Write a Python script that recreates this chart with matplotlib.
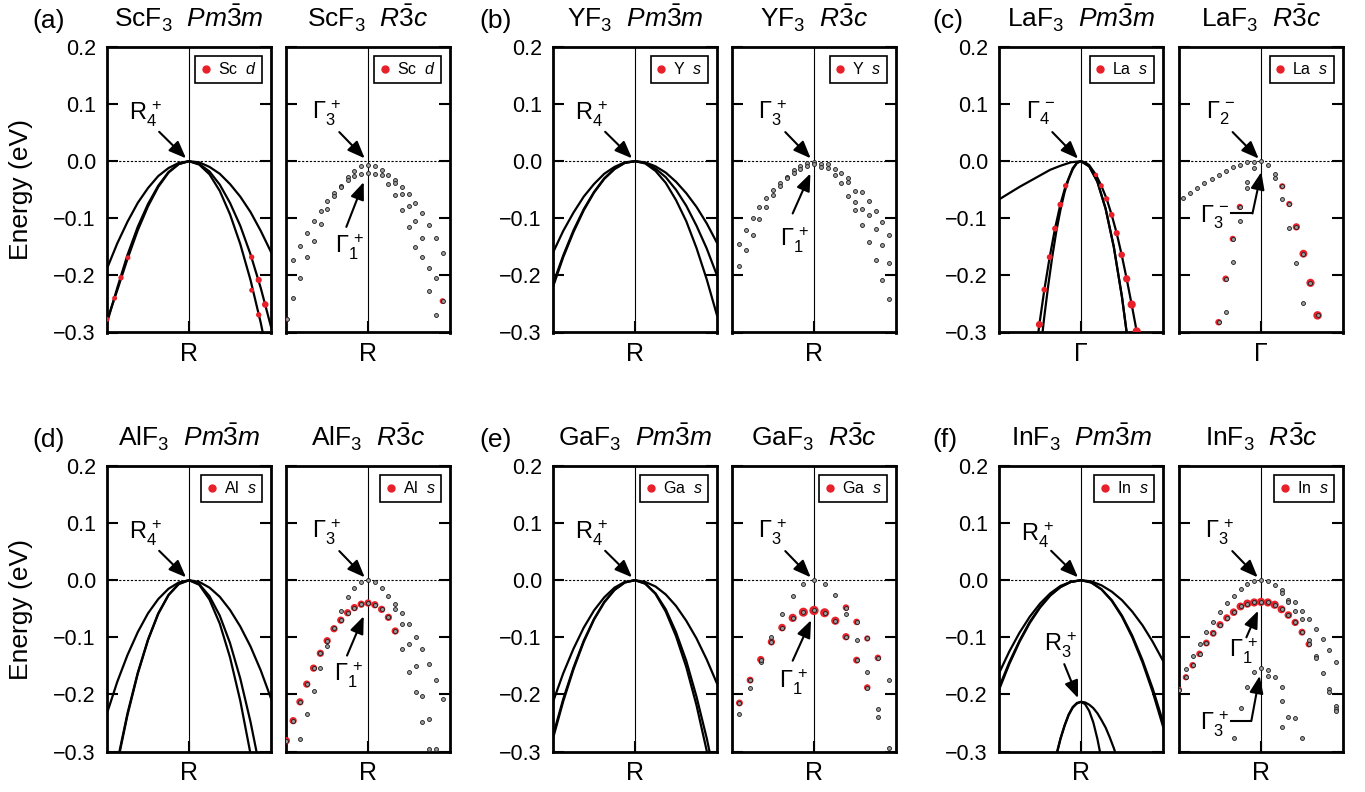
import matplotlib
matplotlib.use("Agg")
import matplotlib.pyplot as plt
from matplotlib.lines import Line2D

plt.rcParams['font.family'] = ['Liberation Sans', 'DejaVu Sans']
plt.rcParams['mathtext.fontset'] = 'custom'
plt.rcParams['mathtext.rm'] = 'Liberation Sans'
plt.rcParams['mathtext.it'] = 'Liberation Sans:italic'
plt.rcParams['mathtext.bf'] = 'Liberation Sans:bold'

RED = '#e8202a'

Y_TICKS = [-0.3, -0.2, -0.1, 0.0, 0.1, 0.2]
Y_TICK_LABELS = ['\u22120.3', '\u22120.2', '\u22120.1', '0.0', '0.1', '0.2']

# ---- cubic (Pm-3m) panels: bands read on a common k grid, R / Gamma at k = 0
K_LINE = [-1, -0.875, -0.75, -0.625, -0.5, -0.375, -0.25, -0.125, 0,
          0.125, 0.25, 0.375, 0.5, 0.625, 0.75, 0.875, 1]

SC_PM_BANDS = [
    [-0.188, -0.144, -0.106, -0.073, -0.047, -0.026, -0.012, -0.003, 0,
     -0.002, -0.010, -0.022, -0.040, -0.062, -0.089, -0.122, -0.159],
    [-0.279, -0.226, -0.171, -0.121, -0.079, -0.045, -0.020, -0.005, 0,
     -0.005, -0.018, -0.041, -0.073, -0.113, -0.163, -0.222, -0.290],
    [-0.283, -0.222, -0.164, -0.115, -0.075, -0.043, -0.019, -0.005, 0,
     -0.006, -0.023, -0.052, -0.093, -0.145, -0.208, -0.283, -0.370],
]
SC_PM_RED_K = [-1, -0.907, -0.829, -0.744, 0.764, 0.85, 0.93, 0.764, 0.85]
SC_PM_RED_E = [-0.277, -0.240, -0.204, -0.169, -0.168, -0.208, -0.251, -0.226, -0.269]
SC_PM_RED_W = [0.25, 0.25, 0.3, 0.25, 0.3, 0.4, 0.45, 0.25, 0.3]

Y_PM_BANDS = [
    [-0.160, -0.122, -0.090, -0.062, -0.040, -0.022, -0.010, -0.002, 0,
     -0.002, -0.009, -0.020, -0.036, -0.056, -0.080, -0.109, -0.143],
    [-0.220, -0.168, -0.124, -0.086, -0.055, -0.031, -0.014, -0.003, 0,
     -0.003, -0.013, -0.028, -0.050, -0.078, -0.113, -0.153, -0.200],
    [-0.215, -0.165, -0.121, -0.084, -0.054, -0.030, -0.013, -0.003, 0,
     -0.004, -0.017, -0.038, -0.068, -0.105, -0.152, -0.207, -0.270],
]

AL_PM_BANDS = [
    [-0.233, -0.178, -0.131, -0.091, -0.058, -0.033, -0.015, -0.004, 0,
     -0.003, -0.013, -0.029, -0.052, -0.081, -0.116, -0.158, -0.207],
    [-0.420, -0.322, -0.236, -0.164, -0.105, -0.059, -0.026, -0.007, 0,
     -0.007, -0.028, -0.062, -0.110, -0.172, -0.248, -0.337, -0.440],
    [-0.415, -0.318, -0.233, -0.162, -0.104, -0.058, -0.026, -0.006, 0,
     -0.008, -0.034, -0.076, -0.135, -0.211, -0.304, -0.413, -0.540],
]

GA_PM_BANDS = [
    [-0.213, -0.163, -0.120, -0.083, -0.053, -0.030, -0.013, -0.003, 0,
     -0.003, -0.011, -0.025, -0.045, -0.071, -0.102, -0.139, -0.181],
    [-0.277, -0.212, -0.156, -0.108, -0.069, -0.039, -0.017, -0.004, 0,
     -0.006, -0.023, -0.051, -0.091, -0.141, -0.204, -0.277, -0.362],
    [-0.272, -0.208, -0.153, -0.106, -0.068, -0.038, -0.017, -0.004, 0,
     -0.006, -0.024, -0.055, -0.098, -0.152, -0.219, -0.299, -0.390],
]

IN_PM_BANDS = [
    [-0.163, -0.125, -0.092, -0.064, -0.041, -0.023, -0.010, -0.003, 0,
     -0.002, -0.009, -0.020, -0.035, -0.055, -0.079, -0.108, -0.141],
    [-0.192, -0.147, -0.108, -0.075, -0.048, -0.027, -0.012, -0.003, 0,
     -0.004, -0.016, -0.036, -0.064, -0.100, -0.144, -0.196, -0.256],
    [-0.188, -0.144, -0.106, -0.073, -0.047, -0.026, -0.012, -0.003, 0,
     -0.004, -0.016, -0.035, -0.062, -0.097, -0.140, -0.190, -0.248],
]
# lower R3+ group of InF3
IN_LOW_K_A = [-0.3, -0.25, -0.2, -0.15, -0.1, -0.05, 0, 0.05, 0.1, 0.15, 0.2, 0.25]
IN_LOW_E_A = [-0.307, -0.278, -0.255, -0.236, -0.223, -0.216, -0.213,
              -0.217, -0.229, -0.249, -0.278, -0.314]
IN_LOW_K_B = [-0.3, -0.25, -0.2, -0.15, -0.1, -0.05, 0, 0.05, 0.1, 0.15,
              0.2, 0.25, 0.3, 0.35, 0.4, 0.45]
IN_LOW_E_B = [-0.305, -0.277, -0.254, -0.235, -0.222, -0.215, -0.213,
              -0.214, -0.218, -0.224, -0.233, -0.245, -0.258, -0.275, -0.294, -0.315]

# LaF3 at Gamma: bands are not symmetric, each one read on its own k points
LA_PM_K_A = [-1, -0.875, -0.75, -0.625, -0.5, -0.375, -0.25, -0.125, 0,
             0.1, 0.2, 0.3, 0.4, 0.5, 0.58]
LA_PM_E_A = [-0.067, -0.056, -0.045, -0.035, -0.025, -0.015, -0.008, -0.002, 0,
             -0.009, -0.036, -0.083, -0.150, -0.238, -0.325]
LA_PM_K_B = [-0.53, -0.508, -0.447, -0.382, -0.317, -0.252, -0.187, -0.1, -0.05, 0,
             0.05, 0.1, 0.183, 0.248, 0.313, 0.374, 0.435, 0.496, 0.557, 0.618, 0.679, 0.7]
LA_PM_E_B = [-0.312, -0.286, -0.225, -0.168, -0.118, -0.076, -0.043, -0.012, -0.003, 0,
             -0.002, -0.007, -0.024, -0.043, -0.066, -0.094, -0.126, -0.164, -0.206,
             -0.251, -0.298, -0.315]
LA_PM_K_C = [-0.5, -0.45, -0.4, -0.35, -0.3, -0.25, -0.2, -0.15, -0.1, -0.05, 0,
             0.1, 0.2, 0.3, 0.4, 0.5, 0.58]
LA_PM_E_C = [-0.340, -0.275, -0.218, -0.167, -0.122, -0.085, -0.054, -0.031, -0.014, -0.003, 0,
             -0.009, -0.036, -0.083, -0.150, -0.238, -0.325]
LA_PM_RED_K = [-0.187, -0.252, -0.317, -0.382, -0.447, -0.508,
               0.183, 0.248, 0.313, 0.374, 0.435, 0.496, 0.557, 0.618, 0.679]
LA_PM_RED_E = [-0.043, -0.076, -0.118, -0.168, -0.225, -0.286,
               -0.024, -0.043, -0.066, -0.094, -0.126, -0.164, -0.206, -0.251, -0.298]
LA_PM_RED_W = [0.3, 0.35, 0.35, 0.35, 0.35, 0.5,
               0.2, 0.25, 0.3, 0.35, 0.4, 0.45, 0.55, 0.7, 0.7]

# ---- rhombohedral (R-3c) panels: k in units of the calculation step, Gamma at 0
SC_R3C_K = list(range(-12, 12))
SC_R3C_E = [
    [-0.277],
    [-0.173, -0.240], [-0.149, -0.204], [-0.125, -0.168], [-0.104, -0.139],
    [-0.087, -0.110], [-0.069, -0.084], [-0.055, -0.061], [-0.043, -0.046],
    [-0.027, -0.033], [-0.017, -0.026], [-0.009, -0.022], [-0.006, -0.021],
    [-0.009, -0.022], [-0.015, -0.025], [-0.024, -0.040], [-0.033, -0.038, -0.060],
    [-0.045, -0.057, -0.086], [-0.057, -0.078, -0.116], [-0.073, -0.104, -0.151],
    [-0.090, -0.134, -0.168], [-0.111, -0.187, -0.227], [-0.134, -0.205, -0.269],
    [-0.160, -0.245],
]
SC_R3C_RED_K = [-12, 11]
SC_R3C_RED_E = [-0.277, -0.245]
SC_R3C_RED_W = [0.25, 0.35]

Y_R3C_K = list(range(-11, 12))
Y_R3C_E = [
    [-0.145, -0.184], [-0.120, -0.156], [-0.099, -0.129], [-0.081, -0.102],
    [-0.064, -0.080], [-0.050, -0.060], [-0.038, -0.043], [-0.027, -0.029],
    [-0.016, -0.020], [-0.009, -0.014], [-0.003, -0.009], [-0.001, -0.005],
    [-0.005, -0.010], [-0.005, -0.012], [-0.014, -0.024], [-0.021, -0.039],
    [-0.030, -0.037, -0.061], [-0.052, -0.071, -0.085], [-0.054, -0.084, -0.111],
    [-0.070, -0.094, -0.141], [-0.088, -0.119, -0.173], [-0.106, -0.147, -0.208],
    [-0.129, -0.178, -0.242],
]

LA_R3C_K = list(range(-11, 9))
LA_R3C_E = [
    [-0.064], [-0.056], [-0.047], [-0.039], [-0.031],
    [-0.024, -0.282], [-0.017, -0.206, -0.264], [-0.010, -0.136, -0.177],
    [-0.006, -0.080, -0.104], [-0.002, -0.036, -0.047], [-0.001, -0.012], [0.0],
    [-0.007], [-0.022, -0.030], [-0.044, -0.067], [-0.075, -0.117],
    [-0.115, -0.178], [-0.162, -0.249], [-0.213], [-0.270],
]
LA_R3C_RED_K = [-3, -4, -5, -6, 3, 4, 5, 6, 7, 8]
LA_R3C_RED_E = [-0.080, -0.136, -0.206, -0.282, -0.044, -0.075, -0.115, -0.162, -0.213, -0.270]
LA_R3C_RED_W = [0.4, 0.4, 0.45, 0.45, 0.4, 0.4, 0.55, 0.65, 0.7, 0.75]

AL_R3C_K = list(range(-12, 12))
AL_R3C_E = [
    [-0.281], [-0.246], [-0.278, -0.213], [-0.235, -0.182], [-0.194, -0.154],
    [-0.153, -0.128], [-0.116, -0.106], [-0.084], [-0.054, -0.070],
    [-0.030, -0.057], [-0.013, -0.048], [-0.004, -0.042], [0.0, -0.040],
    [-0.004, -0.043], [-0.013, -0.051], [-0.027, -0.065], [-0.042, -0.050, -0.089],
    [-0.058, -0.077, -0.121], [-0.077, -0.112, -0.160], [-0.100, -0.150, -0.196],
    [-0.120, -0.203, -0.249], [-0.146, -0.243, -0.296], [-0.175, -0.296], [-0.208],
]
AL_R3C_RED_K = [-12, -11, -10, -9, -8, -7, -6, -5, -4, -3, -2, -1, 0, 1, 2, 3, 4]
AL_R3C_RED_E = [-0.281, -0.246, -0.213, -0.182, -0.154, -0.128, -0.106, -0.085, -0.070,
                -0.057, -0.048, -0.042, -0.040, -0.043, -0.051, -0.065, -0.089]
AL_R3C_RED_W = [0.55] * 17

GA_R3C_K = list(range(-7, 8))
GA_R3C_E = [
    [-0.235, -0.215], [-0.188, -0.175], [-0.144, -0.139], [-0.099, -0.108],
    [-0.060, -0.083], [-0.027, -0.066], [-0.007, -0.056], [0.0, -0.053],
    [-0.007, -0.057], [-0.026, -0.071], [-0.060, -0.048, -0.099],
    [-0.105, -0.073, -0.140], [-0.160, -0.102, -0.188], [-0.225, -0.239, -0.136],
    [-0.175, -0.293],
]
GA_R3C_RED_K = [-7, -6, -5, -4, -3, -2, -1, 0, 1, 2, 3, 3, 4, 4, 5, 5, 6]
GA_R3C_RED_E = [-0.215, -0.175, -0.139, -0.108, -0.083, -0.066, -0.056, -0.053, -0.057,
                -0.071, -0.048, -0.099, -0.073, -0.140, -0.102, -0.188, -0.136]
GA_R3C_RED_W = [0.5, 0.5, 0.55, 0.55, 0.6, 0.7, 0.85, 0.9, 0.85,
                0.7, 0.45, 0.55, 0.45, 0.5, 0.4, 0.45, 0.45]

IN_R3C_K = list(range(-12, 12))
IN_R3C_E = [
    [-0.192], [-0.156, -0.170], [-0.133, -0.149], [-0.112, -0.129], [-0.091, -0.110],
    [-0.073, -0.093], [-0.056, -0.078], [-0.040, -0.066], [-0.027, -0.056, -0.276],
    [-0.016, -0.046, -0.223], [-0.007, -0.041, -0.187], [-0.002, -0.039, -0.161],
    [0.0, -0.038, -0.154], [-0.002, -0.039, -0.158, -0.168], [-0.008, -0.043, -0.170],
    [-0.018, -0.022, -0.051, -0.187, -0.211, -0.257], [-0.035, -0.039, -0.061, -0.240],
    [-0.039, -0.054, -0.074, -0.241], [-0.054, -0.068, -0.091, -0.277],
    [-0.068, -0.105, -0.112], [-0.086, -0.132, -0.136], [-0.103, -0.163],
    [-0.122, -0.190, -0.195], [-0.144, -0.220, -0.225, -0.229],
]
IN_R3C_RED_K = list(range(-12, 8))
IN_R3C_RED_E = [-0.192, -0.170, -0.149, -0.129, -0.110, -0.093, -0.078, -0.066, -0.056, -0.046,
                -0.041, -0.039, -0.038, -0.039, -0.043, -0.051, -0.061, -0.074, -0.091, -0.112]
IN_R3C_RED_W = [0.4, 0.4, 0.45, 0.45, 0.5, 0.5, 0.55, 0.55, 0.6, 0.65,
                0.7, 0.7, 0.7, 0.7, 0.7, 0.65, 0.6, 0.55, 0.5, 0.45]


fig = plt.figure(figsize=(13.65, 7.92), dpi=100)
FW, FH = 1365.0, 792.0
COL_LEFT = [107, 286, 553, 732, 999, 1179]
ROW_TOP = [47, 466]
PW, PH = 164, 285.5


def add_panel(row, col):
    return fig.add_axes([COL_LEFT[col] / FW, 1 - (ROW_TOP[row] + PH) / FH, PW / FW, PH / FH])


def frame(ax, xlim, point, title, legend_label, first):
    ax.set_xlim(-xlim, xlim)
    ax.set_ylim(-0.3, 0.2)
    ax.set_yticks(Y_TICKS)
    ax.set_yticklabels(Y_TICK_LABELS)
    ax.set_xticks([0])
    ax.set_xticklabels([point])
    ax.tick_params(axis='y', direction='in', left=True, right=True, length=8, width=1.5,
                   labelsize=15.5, pad=8, labelleft=first)
    ax.tick_params(axis='x', direction='in', length=8, width=1.5, labelsize=18, pad=7)
    for sp in ax.spines.values():
        sp.set_linewidth(2.0)
    ax.axvline(0, color='k', lw=0.8, zorder=1)
    ax.axhline(0, color='k', lw=0.8, ls=(0, (2, 1.5)), zorder=1)
    ax.text(0.5, 1.067, title, transform=ax.transAxes, ha='center', va='baseline', fontsize=19)
    h = Line2D([], [], ls='', marker='o', ms=5, mfc=RED, mec=RED)
    leg = ax.legend([h], [legend_label], loc='upper right', fontsize=11.5, frameon=True,
                    fancybox=False, edgecolor='k', framealpha=1, borderpad=0.35,
                    handlelength=0.6, handletextpad=0.45, borderaxespad=0.55)
    leg.get_frame().set_linewidth(1.2)


ARROW = dict(arrowstyle='-|>,head_length=0.7,head_width=0.28', color='k', lw=1.5,
             mutation_scale=15, shrinkA=0, shrinkB=0)


def mark(ax, text, text_xy, tail, tip, corner=None):
    ax.text(text_xy[0], text_xy[1], text, transform=ax.transAxes, ha='left',
            va='baseline', fontsize=17, zorder=6)
    start = tail
    if corner is not None:
        ax.plot([tail[0], corner[0]], [tail[1], corner[1]], color='k', lw=1.5,
                transform=ax.transAxes, zorder=6)
        start = corner
    ax.annotate('', xy=tip, xytext=start, xycoords='axes fraction',
                textcoords='axes fraction', arrowprops=ARROW, zorder=6)


def draw_lines(ax, bands):
    for k, e in bands:
        ax.plot(k, e, color='k', lw=1.6, zorder=2)


def draw_red(ax, k, e, w):
    ax.scatter(k, e, s=[50 * v for v in w], color=RED, linewidths=0, zorder=3)


def draw_dots(ax, k_cols, e_cols):
    ks = [k for k, es in zip(k_cols, e_cols) for _ in es]
    es = [e for col in e_cols for e in col]
    ax.scatter(ks, es, s=8, facecolor='#9c9c9c', edgecolor='#1a1a1a', linewidths=0.6, zorder=4)


PM = r'  $\mathit{Pm\bar{3}m}$'
RC = r'  $\mathit{R\bar{3}c}$'
CUBIC_TXT = (0.133, 0.743)
CUBIC_TAIL, CUBIC_TIP = (0.318, 0.703), (0.482, 0.610)
TOP_TXT = (0.16, 0.747)
TOP_TAIL, TOP_TIP = (0.325, 0.702), (0.48, 0.610)

# (a) ScF3
ax = add_panel(0, 0)
frame(ax, 1, 'R', 'ScF$_3$' + PM, r'Sc  $d$', True)
draw_lines(ax, [(K_LINE, b) for b in SC_PM_BANDS])
draw_red(ax, SC_PM_RED_K, SC_PM_RED_E, SC_PM_RED_W)
mark(ax, r'$\mathrm{R}_4^{\,+}$', CUBIC_TXT, CUBIC_TAIL, CUBIC_TIP)

ax = add_panel(0, 1)
frame(ax, 12.1, 'R', 'ScF$_3$' + RC, r'Sc  $d$', False)
draw_red(ax, SC_R3C_RED_K, SC_R3C_RED_E, SC_R3C_RED_W)
draw_dots(ax, SC_R3C_K, SC_R3C_E)
mark(ax, r'$\Gamma_3^{\,+}$', TOP_TXT, TOP_TAIL, TOP_TIP)
mark(ax, r'$\Gamma_1^{\,+}$', (0.298, 0.277), (0.368, 0.370), (0.474, 0.527))

# (b) YF3
ax = add_panel(0, 2)
frame(ax, 1, 'R', 'YF$_3$' + PM, r'Y  $s$', True)
draw_lines(ax, [(K_LINE, b) for b in Y_PM_BANDS])
mark(ax, r'$\mathrm{R}_4^{\,+}$', CUBIC_TXT, CUBIC_TAIL, CUBIC_TIP)

ax = add_panel(0, 3)
frame(ax, 12.0, 'R', 'YF$_3$' + RC, r'Y  $s$', False)
draw_dots(ax, Y_R3C_K, Y_R3C_E)
mark(ax, r'$\Gamma_3^{\,+}$', TOP_TXT, TOP_TAIL, TOP_TIP)
mark(ax, r'$\Gamma_1^{\,+}$', (0.295, 0.300), (0.370, 0.417), (0.478, 0.557))

# (c) LaF3
ax = add_panel(0, 4)
frame(ax, 1, '\u0393', 'LaF$_3$' + PM, r'La  $s$', True)
draw_lines(ax, [(LA_PM_K_A, LA_PM_E_A), (LA_PM_K_B, LA_PM_E_B), (LA_PM_K_C, LA_PM_E_C)])
draw_red(ax, LA_PM_RED_K, LA_PM_RED_E, LA_PM_RED_W)
mark(ax, r'$\Gamma_4^{\,-}$', (0.167, 0.749), (0.325, 0.702), (0.482, 0.609))

ax = add_panel(0, 5)
frame(ax, 11.6, '\u0393', 'LaF$_3$' + RC, r'La  $s$', False)
draw_red(ax, LA_R3C_RED_K, LA_R3C_RED_E, LA_R3C_RED_W)
draw_dots(ax, LA_R3C_K, LA_R3C_E)
mark(ax, r'$\Gamma_2^{\,-}$', (0.165, 0.749), (0.327, 0.702), (0.486, 0.609))
mark(ax, r'$\Gamma_3^{\,-}$', (0.125, 0.387), (0.32, 0.417), (0.502, 0.562), corner=(0.448, 0.417))

# (d) AlF3
ax = add_panel(1, 0)
frame(ax, 1, 'R', 'AlF$_3$' + PM, r'Al  $s$', True)
draw_lines(ax, [(K_LINE, b) for b in AL_PM_BANDS])
mark(ax, r'$\mathrm{R}_4^{\,+}$', CUBIC_TXT, CUBIC_TAIL, CUBIC_TIP)

ax = add_panel(1, 1)
frame(ax, 12.05, 'R', 'AlF$_3$' + RC, r'Al  $s$', False)
draw_red(ax, AL_R3C_RED_K, AL_R3C_RED_E, AL_R3C_RED_W)
draw_dots(ax, AL_R3C_K, AL_R3C_E)
mark(ax, r'$\Gamma_3^{\,+}$', TOP_TXT, TOP_TAIL, TOP_TIP)
mark(ax, r'$\Gamma_1^{\,+}$', (0.294, 0.246), (0.372, 0.336), (0.474, 0.474))

# (e) GaF3
ax = add_panel(1, 2)
frame(ax, 1, 'R', 'GaF$_3$' + PM, r'Ga  $s$', True)
draw_lines(ax, [(K_LINE, b) for b in GA_PM_BANDS])
mark(ax, r'$\mathrm{R}_4^{\,+}$', CUBIC_TXT, CUBIC_TAIL, CUBIC_TIP)

ax = add_panel(1, 3)
frame(ax, 7.7, 'R', 'GaF$_3$' + RC, r'Ga  $s$', False)
draw_red(ax, GA_R3C_RED_K, GA_R3C_RED_E, GA_R3C_RED_W)
draw_dots(ax, GA_R3C_K, GA_R3C_E)
mark(ax, r'$\Gamma_3^{\,+}$', TOP_TXT, TOP_TAIL, TOP_TIP)
mark(ax, r'$\Gamma_1^{\,+}$', (0.289, 0.222), (0.370, 0.318), (0.482, 0.460))

# (f) InF3
ax = add_panel(1, 4)
frame(ax, 1, 'R', 'InF$_3$' + PM, r'In  $s$', True)
draw_lines(ax, [(K_LINE, b) for b in IN_PM_BANDS])
draw_lines(ax, [(IN_LOW_K_A, IN_LOW_E_A), (IN_LOW_K_B, IN_LOW_E_B)])
mark(ax, r'$\mathrm{R}_4^{\,+}$', (0.136, 0.737), CUBIC_TAIL, CUBIC_TIP)
mark(ax, r'$\mathrm{R}_3^{\,+}$', (0.272, 0.350), (0.398, 0.306), (0.482, 0.187))

ax = add_panel(1, 5)
frame(ax, 12.0, 'R', 'InF$_3$' + RC, r'In  $s$', False)
draw_red(ax, IN_R3C_RED_K, IN_R3C_RED_E, IN_R3C_RED_W)
draw_dots(ax, IN_R3C_K, IN_R3C_E)
mark(ax, r'$\Gamma_3^{\,+}$', TOP_TXT, TOP_TAIL, TOP_TIP)
mark(ax, r'$\Gamma_1^{\,+}$', (0.306, 0.330), (0.411, 0.400), (0.482, 0.493))
mark(ax, r'$\Gamma_3^{\,+}$', (0.125, 0.073), (0.316, 0.107), (0.492, 0.265), corner=(0.441, 0.107))

PANEL_LETTERS = ['(a)', '(b)', '(c)', '(d)', '(e)', '(f)']
LETTER_X = [32, 479, 932]
LETTER_Y = [28, 447]
for i, letter in enumerate(PANEL_LETTERS):
    fig.text(LETTER_X[i % 3] / FW, 1 - LETTER_Y[i // 3] / FH, letter, fontsize=19,
             ha='left', va='baseline')

for yc in (189.5, 609):
    fig.text(21 / FW, 1 - yc / FH, 'Energy (eV)', rotation=90, ha='center', va='center',
             fontsize=19)

fig.savefig('out.png', dpi=100)
